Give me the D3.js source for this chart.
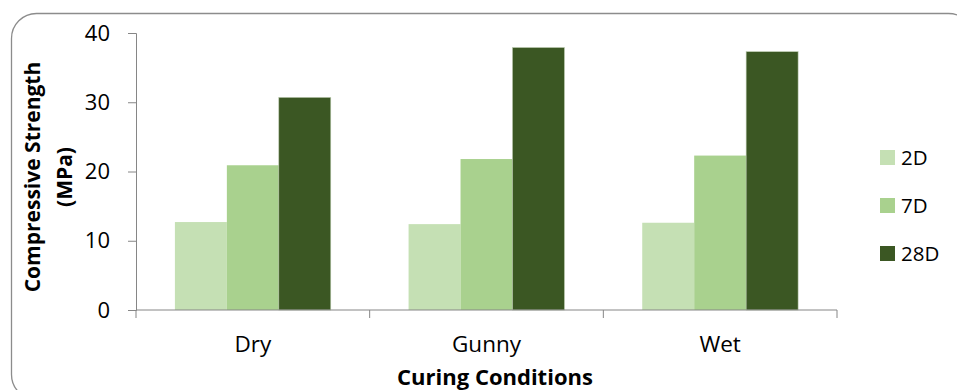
<!DOCTYPE html>
<html><head>
<meta charset="utf-8">
<title>Compressive Strength by Curing Condition</title>
<style>
  body, html { margin: 0; padding: 0; background: #fff; }
  svg { display: block; font-family: 'Open Sans', Arial, sans-serif; }
  .axis path, .axis line { stroke: #868686; }
</style>
<script src="https://d3js.org/d3.v7.min.js"></script>
</head>
<body>
<svg id="chart" width="957" height="390"></svg>
<script>
const categories = ["Dry", "Gunny", "Wet"];
const seriesNames = ["2D", "7D", "28D"];
const values2D = [12.7, 12.4, 12.6];
const values7D = [20.9, 21.8, 22.3];
const values28D = [30.7, 37.9, 37.3];
const yTicks = [0, 10, 20, 30, 40];
const colors = ["#c5e0b4", "#a9d18e", "#3b5723"];

const seriesValues = [values2D, values7D, values28D];

const svg = d3.select("#chart");

// outer frame (runs off the right and bottom edge like the original)
svg.append("rect")
  .attr("x", 11.5).attr("y", 13.5)
  .attr("width", 962).attr("height", 386)
  .attr("rx", 25).attr("ry", 25)
  .attr("fill", "none")
  .attr("stroke", "#8c8c8c")
  .attr("stroke-width", 1.3);

const plot = { left: 136, right: 837, top: 33, bottom: 310 };

const x = d3.scaleBand()
  .domain(categories)
  .range([plot.left, plot.right])
  .paddingInner(0.333)
  .paddingOuter(0.1665);

const xSub = d3.scaleBand()
  .domain(seriesNames)
  .range([0, x.bandwidth()]);

const y = d3.scaleLinear()
  .domain([0, 40])
  .range([plot.bottom, plot.top]);

// bars
const groups = svg.append("g")
  .selectAll("g")
  .data(categories)
  .join("g")
  .attr("transform", d => `translate(${x(d)},0)`);

groups.selectAll("rect")
  .data((c, i) => seriesNames.map((s, j) => ({ s, v: seriesValues[j][i], j })))
  .join("rect")
  .attr("x", d => xSub(d.s))
  .attr("width", xSub.bandwidth())
  .attr("y", d => y(d.v))
  .attr("height", d => y(0) - y(d.v))
  .attr("fill", d => colors[d.j])
  .attr("stroke", d => d.j === 2 ? "#b9c9ad" : "none")
  .attr("stroke-width", 0.6);

// y axis
const yAxis = svg.append("g")
  .attr("class", "axis")
  .attr("transform", `translate(${plot.left},0)`)
  .call(d3.axisLeft(y).tickValues(yTicks).tickSize(8).tickPadding(18));
yAxis.selectAll("text")
  .attr("font-size", 22)
  .attr("fill", "#000")
  .attr("font-family", "'Open Sans', Arial, sans-serif");

// x axis: line with ticks at category boundaries
const xAxisG = svg.append("g").attr("class", "axis");
xAxisG.append("line")
  .attr("x1", plot.left).attr("x2", plot.right)
  .attr("y1", plot.bottom).attr("y2", plot.bottom)
  .attr("stroke", "#868686");
const step = x.step();
const boundaries = categories.map(c => x(c) - (step - x.bandwidth()) / 2).concat([plot.right]);
xAxisG.selectAll(".bt")
  .data(boundaries)
  .join("line")
  .attr("x1", d => d).attr("x2", d => d)
  .attr("y1", plot.bottom).attr("y2", plot.bottom + 8)
  .attr("stroke", "#868686");

svg.append("g")
  .selectAll("text")
  .data(categories)
  .join("text")
  .attr("x", d => x(d) + x.bandwidth() / 2)
  .attr("y", 352)
  .attr("text-anchor", "middle")
  .attr("font-size", 22.5)
  .text(d => d);

// axis titles
svg.append("text")
  .attr("x", 495).attr("y", 385)
  .attr("text-anchor", "middle")
  .attr("font-size", 22)
  .attr("font-weight", "bold")
  .text("Curing Conditions");

const yTitle = svg.append("text")
  .attr("transform", "translate(0,177) rotate(-90)")
  .attr("text-anchor", "middle")
  .attr("font-size", 21)
  .attr("font-weight", "bold");
yTitle.append("tspan").attr("x", 0).attr("y", 40).text("Compressive Strength");
yTitle.append("tspan").attr("x", 0).attr("y", 72).text("(MPa)");

// legend
const legend = svg.append("g")
  .selectAll("g")
  .data(seriesNames)
  .join("g")
  .attr("transform", (d, i) => `translate(880,${150 + i * 48})`);
legend.append("rect")
  .attr("width", 15).attr("height", 15)
  .attr("fill", (d, i) => colors[i]);
legend.append("text")
  .attr("x", 21).attr("y", 15)
  .attr("font-size", 20.5)
  .text(d => d);
</script>
</body></html>
